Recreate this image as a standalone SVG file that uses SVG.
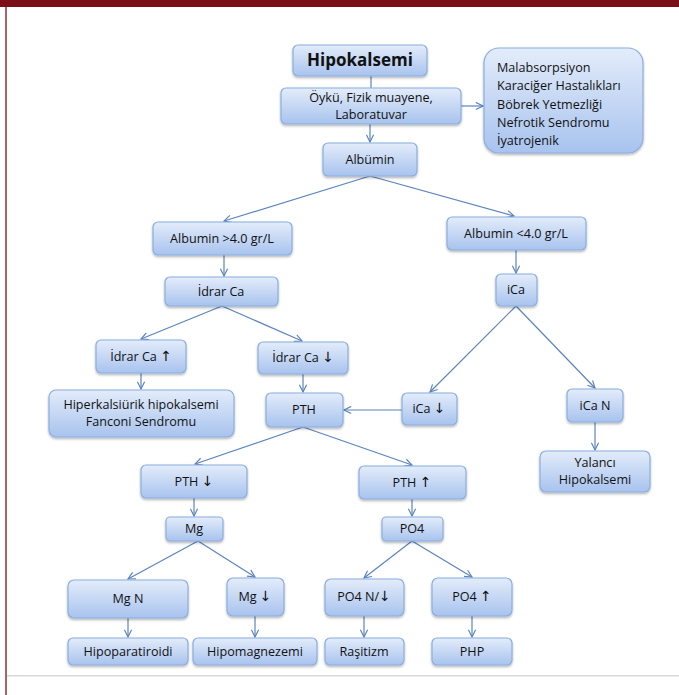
<svg xmlns="http://www.w3.org/2000/svg" width="679" height="695" viewBox="0 0 679 695">
<defs>
<linearGradient id="g" x1="0" y1="0" x2="0" y2="1">
<stop offset="0" stop-color="#e3ecfa"/>
<stop offset="1" stop-color="#a8c3ee"/>
</linearGradient>
<filter id="sh" x="-10%" y="-10%" width="130%" height="140%">
<feDropShadow dx="0" dy="1.5" stdDeviation="1.2" flood-color="#000" flood-opacity="0.3"/>
</filter>
<marker id="ar" viewBox="0 0 10 10" refX="9" refY="5" markerWidth="9" markerHeight="9" markerUnits="userSpaceOnUse" orient="auto">
<path d="M1,1 L9,5 L1,9" fill="none" stroke="#5b84c0" stroke-width="1.3"/>
</marker>
</defs>
<style>
.n rect{fill:url(#g);stroke:#8aaee0;stroke-width:1.2;filter:url(#sh)}
.n text{font-family:"Open Sans","Liberation Sans",sans-serif;font-size:12.6px;fill:#111;text-anchor:middle}
.n .ar{font-family:"DejaVu Sans",sans-serif;font-size:14px}
.c line{stroke:#5b84c0;stroke-width:1.2;fill:none}
.c .a{marker-end:url(#ar)}
</style>
<rect x="0" y="0" width="679" height="695" fill="#fff"/>
<rect x="0" y="0" width="679" height="7" fill="#7a0f18"/>
<rect x="5" y="7" width="2" height="688" fill="#b06068"/>
<rect x="7" y="675" width="672" height="1.5" fill="#d8d8d8"/>

<g class="c" id="connectors">
<line x1="371" y1="76" x2="371" y2="88"/>
<line class="a" x1="370" y1="124" x2="370" y2="142"/>
<line class="a" x1="461" y1="106" x2="483" y2="106"/>
<line class="a" x1="370" y1="176" x2="224" y2="221"/>
<line class="a" x1="370" y1="176" x2="514" y2="216"/>
<line class="a" x1="224" y1="255" x2="224" y2="276"/>
<line class="a" x1="516" y1="250" x2="516" y2="273"/>
<line class="a" x1="222" y1="306" x2="141" y2="339"/>
<line class="a" x1="222" y1="306" x2="302" y2="341"/>
<line class="a" x1="141" y1="373" x2="141" y2="389"/>
<line class="a" x1="303" y1="374" x2="303" y2="392"/>
<line class="a" x1="516" y1="306" x2="430" y2="392"/>
<line class="a" x1="516" y1="306" x2="595" y2="388"/>
<line class="a" x1="402" y1="410" x2="344" y2="410"/>
<line class="a" x1="595" y1="422" x2="595" y2="450"/>
<line class="a" x1="303" y1="427" x2="195" y2="464"/>
<line class="a" x1="303" y1="427" x2="412" y2="465"/>
<line class="a" x1="194" y1="498" x2="194" y2="516"/>
<line class="a" x1="412" y1="499" x2="412" y2="516"/>
<line class="a" x1="198" y1="541" x2="128" y2="579"/>
<line class="a" x1="198" y1="541" x2="255" y2="577"/>
<line class="a" x1="412" y1="541" x2="364" y2="578"/>
<line class="a" x1="412" y1="541" x2="472" y2="577"/>
<line class="a" x1="128" y1="618" x2="128" y2="637"/>
<line class="a" x1="255" y1="616" x2="255" y2="637"/>
<line class="a" x1="364" y1="616" x2="364" y2="637"/>
<line class="a" x1="472" y1="616" x2="472" y2="637"/>
</g>

<g class="n" id="hipokalsemi"><rect x="293" y="45" width="134" height="31" rx="5"/><text x="360" y="66" style="font-size:17px;font-weight:bold">Hipokalsemi</text></g>
<g class="n" id="oyku"><rect x="281" y="88" width="180" height="36" rx="5"/><text x="371" y="102">Öykü, Fizik muayene,</text><text x="371" y="119">Laboratuvar</text></g>
<g class="n" id="nedenler"><rect x="484" y="48" width="159" height="105" rx="15"/><text x="497" y="72" style="text-anchor:start">Malabsorpsiyon</text><text x="497" y="90" style="text-anchor:start">Karaciğer Hastalıkları</text><text x="497" y="109" style="text-anchor:start">Böbrek Yetmezliği</text><text x="497" y="127" style="text-anchor:start">Nefrotik Sendromu</text><text x="497" y="145" style="text-anchor:start">İyatrojenik</text></g>
<g class="n" id="albumin"><rect x="323" y="143" width="94" height="33" rx="5"/><text x="370" y="164">Albümin</text></g>
<g class="n" id="alb-yuksek"><rect x="153" y="222" width="139" height="33" rx="5"/><text x="222" y="243">Albumin &gt;4.0 gr/L</text></g>
<g class="n" id="alb-dusuk"><rect x="447" y="217" width="139" height="33" rx="5"/><text x="516" y="238">Albumin &lt;4.0 gr/L</text></g>
<g class="n" id="idrar-ca"><rect x="165" y="277" width="113" height="29" rx="5"/><text x="221" y="296">İdrar Ca</text></g>
<g class="n" id="ica"><rect x="496" y="274" width="41" height="32" rx="5"/><text x="516" y="294">iCa</text></g>
<g class="n" id="idrar-ca-yuksek"><rect x="96" y="340" width="90" height="33" rx="5"/><text x="141" y="361">İdrar Ca <tspan class="ar">↑</tspan></text></g>
<g class="n" id="idrar-ca-dusuk"><rect x="258" y="342" width="90" height="32" rx="5"/><text x="303" y="362">İdrar Ca <tspan class="ar">↓</tspan></text></g>
<g class="n" id="hiperkalsiurik"><rect x="49" y="390" width="185" height="47" rx="7"/><text x="141" y="409">Hiperkalsiürik hipokalsemi</text><text x="141" y="426">Fanconi Sendromu</text></g>
<g class="n" id="pth"><rect x="266" y="393" width="77" height="34" rx="5"/><text x="304" y="414">PTH</text></g>
<g class="n" id="ica-dusuk"><rect x="402" y="393" width="55" height="32" rx="5"/><text x="429" y="413">iCa <tspan class="ar">↓</tspan></text></g>
<g class="n" id="ica-n"><rect x="567" y="389" width="56" height="33" rx="5"/><text x="595" y="410">iCa N</text></g>
<g class="n" id="yalanci"><rect x="540" y="451" width="110" height="41" rx="6"/><text x="595" y="467">Yalancı</text><text x="595" y="484">Hipokalsemi</text></g>
<g class="n" id="pth-dusuk"><rect x="141" y="465" width="106" height="33" rx="5"/><text x="194" y="486">PTH <tspan class="ar">↓</tspan></text></g>
<g class="n" id="pth-yuksek"><rect x="359" y="466" width="107" height="33" rx="5"/><text x="412" y="487">PTH <tspan class="ar">↑</tspan></text></g>
<g class="n" id="mg"><rect x="166" y="517" width="57" height="24" rx="4"/><text x="194" y="533">Mg</text></g>
<g class="n" id="po4"><rect x="382" y="517" width="61" height="24" rx="4"/><text x="412" y="533">PO4</text></g>
<g class="n" id="mg-n"><rect x="68" y="580" width="120" height="38" rx="6"/><text x="128" y="603">Mg N</text></g>
<g class="n" id="mg-dusuk"><rect x="227" y="578" width="57" height="38" rx="6"/><text x="255" y="601">Mg <tspan class="ar">↓</tspan></text></g>
<g class="n" id="po4-ndusuk"><rect x="325" y="579" width="79" height="37" rx="6"/><text x="364" y="601">PO4 N/<tspan class="ar">↓</tspan></text></g>
<g class="n" id="po4-yuksek"><rect x="432" y="578" width="80" height="38" rx="6"/><text x="472" y="601">PO4 <tspan class="ar">↑</tspan></text></g>
<g class="n" id="hipoparatiroidi"><rect x="68" y="638" width="120" height="27" rx="5"/><text x="128" y="656">Hipoparatiroidi</text></g>
<g class="n" id="hipomagnezemi"><rect x="193" y="638" width="124" height="27" rx="5"/><text x="255" y="656">Hipomagnezemi</text></g>
<g class="n" id="rasitizm"><rect x="325" y="638" width="79" height="27" rx="5"/><text x="364" y="656">Raşitizm</text></g>
<g class="n" id="php"><rect x="432" y="638" width="80" height="27" rx="5"/><text x="472" y="656">PHP</text></g>
</svg>
